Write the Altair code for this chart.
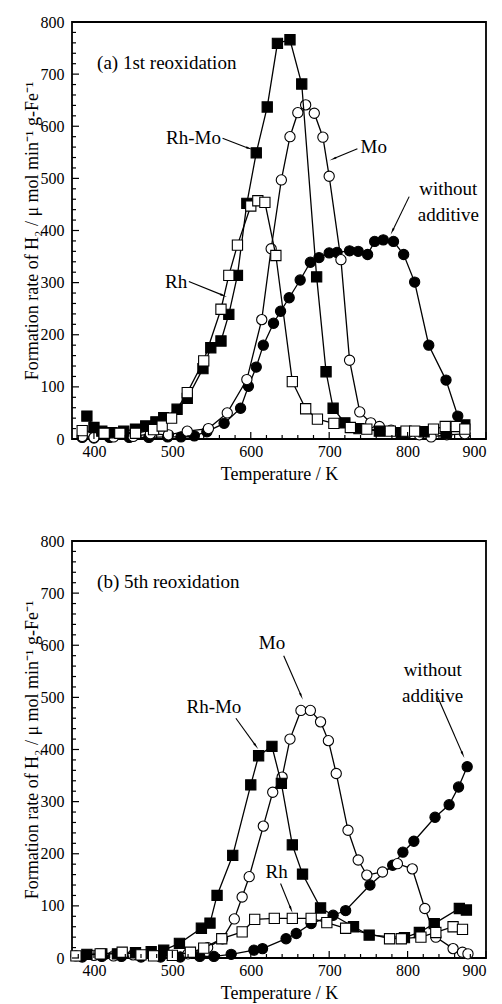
import math
import altair as alt
import pandas as pd

# ---------------- Panel (a): 1st reoxidation ----------------
a_wo_T = [385, 400, 420, 445, 470, 494, 511, 528, 544, 566, 587, 597, 607, 616, 629, 638, 649, 663, 676, 687,
          700, 710, 726, 737, 749, 758, 769, 782, 795, 809, 827, 849, 864, 873]
a_wo_r = [3, 2, 3, 3, 3, 4, 4, 6, 14, 30, 59, 101, 138, 180, 222, 245, 271, 305, 339, 348,
          357, 358, 361, 360, 354, 379, 382, 379, 354, 301, 180, 113, 44, 10]

a_mo_T = [385, 400, 425, 450, 472, 495, 519, 546, 570, 595, 614, 626, 639, 650, 660, 670, 681, 692, 700,
          715, 726, 739, 753, 764, 779, 800, 815, 830, 850, 873]
a_mo_r = [5, 3, 4, 5, 10, 8, 15, 20, 50, 114, 229, 365, 497, 580, 626, 641, 625, 579, 504,
          344, 151, 52, 31, 24, 17, 12, 8, 4, 8, 10]

a_rhmo_T = [391, 400, 410, 423, 438, 453, 466, 479, 489, 506, 519, 539, 549, 562, 572, 583, 595, 607, 621,
            634, 650, 665, 684, 696, 705, 720, 738, 764, 792, 821, 849, 873]
a_rhmo_r = [44, 22, 15, 12, 15, 19, 25, 33, 41, 57, 78, 135, 175, 188, 239, 314, 452, 549, 637,
            759, 766, 681, 311, 129, 59, 31, 20, 15, 12, 14, 10, 27]

a_rh_T = [385, 413, 433, 453, 476, 487, 499, 519, 540, 562, 572, 583, 600, 609, 618, 632, 653, 670, 685,
          706, 727, 748, 778, 798, 809, 833, 848, 862, 873]
a_rh_r = [16, 11, 11, 11, 18, 25, 40, 89, 150, 249, 314, 372, 447, 457, 454, 352, 110, 58, 38,
          30, 22, 19, 15, 15, 15, 19, 24, 24, 19]

# ---------------- Panel (b): 5th reoxidation ----------------
b_wo_T = [385, 410, 435, 460, 485, 510, 535, 553, 575, 604, 615, 645, 658, 677, 705, 721, 752, 781, 794,
          808, 835, 853, 865, 876]
b_wo_r = [2, 3, 3, 2, 2, 2, 3, 3, 7, 15, 18, 37, 47, 66, 82, 91, 140, 178, 203,
          224, 270, 294, 328, 367]

b_mo_T = [377, 400, 425, 450, 475, 500, 520, 545, 564, 579, 589, 598, 616, 628, 640, 650, 664, 676, 689,
          699, 709, 724, 737, 748, 768, 787, 806, 822, 836, 858, 870, 877]
b_mo_r = [4, 5, 4, 6, 5, 5, 8, 20, 37, 75, 117, 156, 253, 318, 347, 420, 475, 475, 453,
          417, 354, 245, 188, 159, 165, 181, 171, 95, 40, 18, 11, 8]

b_rhmo_T = [391, 410, 430, 453, 473, 489, 509, 537, 548, 557, 577, 600, 610, 627, 639, 653, 666, 689,
            731, 751, 796, 815, 834, 866, 875]
b_rhmo_r = [7, 8, 8, 10, 12, 15, 28, 57, 67, 120, 197, 332, 388, 406, 335, 217, 161, 96,
            60, 44, 39, 49, 66, 95, 92]

b_rh_T = [377, 408, 436, 460, 476, 500, 523, 540, 563, 589, 605, 630, 653, 677, 697, 721, 777, 792, 817,
          836, 858, 870]
b_rh_r = [4, 8, 11, 6, 4, 5, 11, 19, 37, 50, 74, 76, 76, 76, 68, 57, 37, 37, 40,
          49, 60, 55]

# ---------------- Annotations (data units) ----------------
a_lab_left = ["(a) 1st reoxidation", "Mo"]
a_lab_left_T = [404, 740]
a_lab_left_r = [721, 560]
a_lab_right = ["Rh-Mo", "Rh"]
a_lab_right_T = [562, 519]
a_lab_right_r = [577, 301]
a_lab_center = ["without\nadditive"]
a_lab_center_T = [852]
a_lab_center_r = [479]
a_arr_T1 = [564, 736, 802, 521]
a_arr_r1 = [577, 557, 465, 302]
a_arr_T2 = [597, 706, 781, 564]
a_arr_r2 = [558, 538, 400, 276]

b_lab_left = ["(b) 5th reoxidation"]
b_lab_left_T = [404]
b_lab_left_r = [721]
b_lab_right = []
b_lab_right_T = []
b_lab_right_r = []
b_lab_center = ["Mo", "Rh-Mo", "without\nadditive", "Rh"]
b_lab_center_T = [627, 553, 832, 633]
b_lab_center_r = [604, 481, 553, 165]
b_arr_T1 = [642, 581, 838, 638]
b_arr_r1 = [580, 460, 502, 143]
b_arr_T2 = [664, 606, 870, 651]
b_arr_r2 = [504, 408, 392, 95]

X_DOMAIN = [372, 900]
Y_DOMAIN = [0, 800]
W, H = 414, 417
FONT = "Liberation Serif"
YTITLE = "Formation rate of  H\u2082 / \u03bc mol min\u207b\u00b9 g-Fe\u207b\u00b9"

x_ticks = list(range(380, 901, 20))
y_ticks = list(range(0, 801, 20))

x_axis = alt.Axis(values=[400, 500, 600, 700, 800, 900], title="Temperature / K", grid=False,
                  ticks=False, tickSize=0, domain=False, labelPadding=4, titlePadding=6,
                  labelFontSize=16, titleFontSize=18, labelFont=FONT, titleFont=FONT,
                  titleFontWeight="normal", labelColor="black", titleColor="black")
y_axis = alt.Axis(values=list(range(0, 801, 100)), title=YTITLE, grid=False, ticks=False, tickSize=0,
                  domain=False, labelPadding=8, labelFontSize=16, titleFontSize=18,
                  labelFont=FONT, titleFont=FONT, titleFontWeight="normal", labelColor="black",
                  titleColor="black", titleX=-35, titleY=H / 2, titleAngle=270,
                  titleBaseline="alphabetic", titleAlign="center")

xs = alt.Scale(domain=X_DOMAIN, nice=False, zero=False)
ys = alt.Scale(domain=Y_DOMAIN, nice=False)


def X(f):
    return alt.X(f"{f}:Q", scale=xs, axis=x_axis)


def Y(f):
    return alt.Y(f"{f}:Q", scale=ys, axis=y_axis)


def series(T, r, shape, filled):
    df = pd.DataFrame({"T": T, "r": r})
    base = alt.Chart(df)
    line = base.mark_line(color="black", strokeWidth=1.3).encode(x=X("T"), y=Y("r"), order="T:Q")
    pts = base.mark_point(shape=shape, size=105, filled=True,
                          fill="black" if filled else "white",
                          stroke="black", strokeWidth=1.1, opacity=1).encode(x=X("T"), y=Y("r"))
    return [line, pts]


def ticks_layers():
    dfy = pd.DataFrame({"v": y_ticks, "L": [7 if v % 100 == 0 else 4 for v in y_ticks]})
    dfx = pd.DataFrame({"v": x_ticks, "L": [7 if v % 100 == 0 else 4 for v in x_ticks]})
    ly_major = alt.Chart(dfy).transform_filter("datum.L == 7").mark_rule(color="black", strokeWidth=1.2).encode(
        y=Y("v"), x=alt.value(0), x2=alt.value(7))
    ly_minor = alt.Chart(dfy).transform_filter("datum.L == 4").mark_rule(color="black", strokeWidth=1.2).encode(
        y=Y("v"), x=alt.value(0), x2=alt.value(4))
    lx_major = alt.Chart(dfx).transform_filter("datum.L == 7").mark_rule(color="black", strokeWidth=1.2).encode(
        x=X("v"), y=alt.value(H), y2=alt.value(H - 7))
    lx_minor = alt.Chart(dfx).transform_filter("datum.L == 4").mark_rule(color="black", strokeWidth=1.2).encode(
        x=X("v"), y=alt.value(H), y2=alt.value(H - 4))
    return [ly_major, ly_minor, lx_major, lx_minor]


def annot(left, lT, lr, right, rT, rr, center, cT, cr, aT1, ar1, aT2, ar2):
    layers = []
    for labs, Ts, rs, al in [(left, lT, lr, "left"), (right, rT, rr, "right"), (center, cT, cr, "center")]:
        if not labs:
            continue
        df = pd.DataFrame({"t": labs, "T": Ts, "r": rs})
        layers.append(alt.Chart(df).mark_text(align=al, baseline="middle", font=FONT, fontSize=19,
                                              color="black", lineBreak="\n", lineHeight=26).encode(
            x=X("T"), y=Y("r"), text="t:N"))
    pxK = W / (X_DOMAIN[1] - X_DOMAIN[0])
    pxY = H / (Y_DOMAIN[1] - Y_DOMAIN[0])
    angs = []
    for t1, r1, t2, r2 in zip(aT1, ar1, aT2, ar2):
        dx = (t2 - t1) * pxK
        dy = -(r2 - r1) * pxY
        angs.append(math.degrees(math.atan2(dx, -dy)) % 360)
    dfa = pd.DataFrame({"T1": aT1, "r1": ar1, "T2": aT2, "r2": ar2, "ang": angs})
    layers.append(alt.Chart(dfa).mark_rule(color="black", strokeWidth=1.1).encode(
        x=X("T1"), y=Y("r1"), x2="T2:Q", y2="r2:Q"))
    layers.append(alt.Chart(dfa).mark_point(shape="wedge", size=70, filled=True, color="black", opacity=1).encode(
        x=X("T2"), y=Y("r2"), angle=alt.Angle("ang:Q", scale=None)))
    return layers


def panel(data, ann):
    layers = []
    wo, mo, rhmo, rh = data
    layers += series(*wo, "circle", True)
    layers += series(*mo, "circle", False)
    layers += series(*rhmo, "square", True)
    layers += series(*rh, "square", False)
    layers += ticks_layers()
    layers += annot(*ann)
    return alt.layer(*layers).properties(width=W, height=H)


top = panel([(a_wo_T, a_wo_r), (a_mo_T, a_mo_r), (a_rhmo_T, a_rhmo_r), (a_rh_T, a_rh_r)],
            (a_lab_left, a_lab_left_T, a_lab_left_r, a_lab_right, a_lab_right_T, a_lab_right_r,
             a_lab_center, a_lab_center_T, a_lab_center_r, a_arr_T1, a_arr_r1, a_arr_T2, a_arr_r2))
bottom = panel([(b_wo_T, b_wo_r), (b_mo_T, b_mo_r), (b_rhmo_T, b_rhmo_r), (b_rh_T, b_rh_r)],
               (b_lab_left, b_lab_left_T, b_lab_left_r, b_lab_right, b_lab_right_T, b_lab_right_r,
                b_lab_center, b_lab_center_T, b_lab_center_r, b_arr_T1, b_arr_r1, b_arr_T2, b_arr_r2))

chart = alt.vconcat(top, bottom, spacing=48).properties(
    padding={"left": 22, "top": 13, "right": 5, "bottom": 0},
    background="white",
).configure_view(stroke="black", strokeWidth=1.8).configure_concat(spacing=48)

chart.save("out.html", embed_options={"renderer": "svg", "actions": False})
